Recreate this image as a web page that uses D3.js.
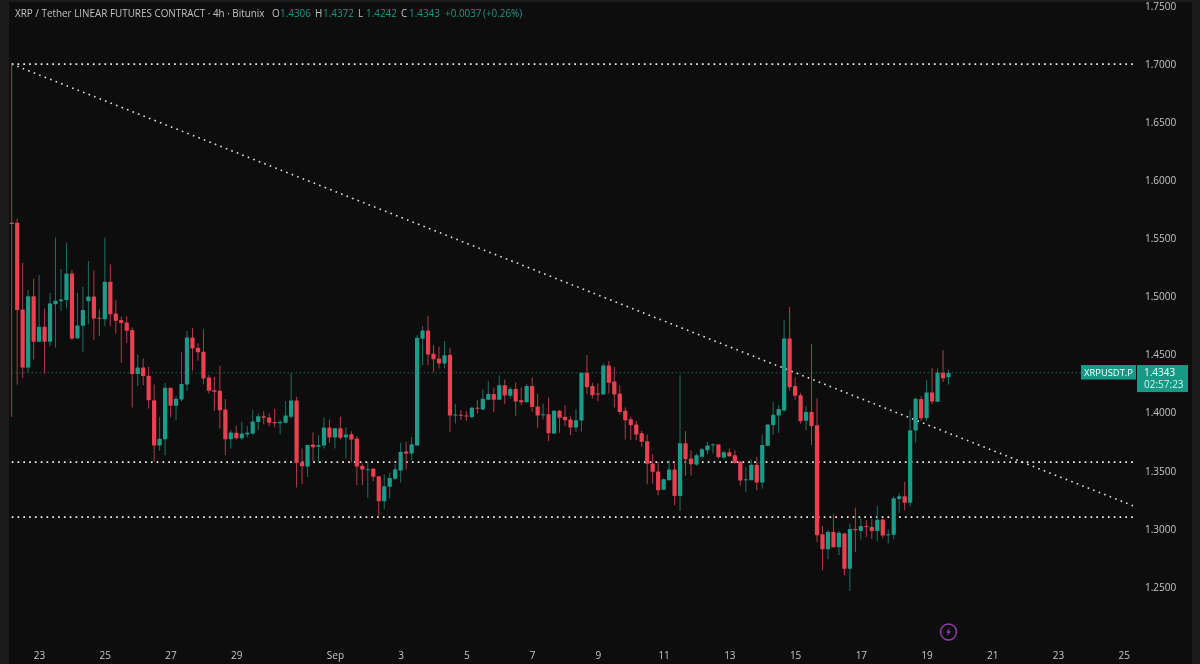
<!DOCTYPE html>
<html>
<head>
<meta charset="utf-8">
<style>
html, body { margin: 0; padding: 0; background: #0f0f0f; overflow: hidden; }
text { font-family: "Open Sans", sans-serif; }
.axis text { fill: #c4c4c4; font-size: 10px; }
</style>
</head>
<body>
<svg id="chart" width="1200" height="664"></svg>
<script src="https://cdn.jsdelivr.net/npm/d3@7"></script>
<script>
// 4h candles
var opens = [
  1.5635,1.5635,1.4889,1.4389,1.5003,1.4610,1.4739,1.4610,1.4934,1.4960,
  1.4969,1.5199,1.4639,1.4748,1.4960,1.5000,1.4817,1.4805,1.5127,1.4854,
  1.4797,1.4777,1.4711,1.4332,1.4389,1.4318,1.4108,1.3718,1.3772,1.4214,
  1.4059,1.4114,1.4243,1.4648,1.4559,1.4524,1.4303,1.4194,1.4188,1.4028,
  1.3772,1.3827,1.3781,1.3812,1.3821,1.3921,1.3970,1.3959,1.3919,1.3910,
  1.3913,1.3965,1.4105,1.3571,1.3537,1.3726,1.3706,1.3718,1.3873,1.3787,
  1.3867,1.3787,1.3815,1.3778,1.3543,1.3505,1.3517,1.3454,1.3238,1.3362,
  1.3431,1.3502,1.3666,1.3649,1.3718,1.4636,1.4708,1.4507,1.4467,1.4424,
  1.4498,1.3976,1.3982,1.3976,1.3962,1.4042,1.4028,1.4111,1.4160,1.4111,
  1.4237,1.4145,1.4203,1.4108,1.4091,1.4229,1.4053,1.3979,1.3987,1.3821,
  1.4016,1.3965,1.3942,1.3873,1.3933,1.4343,1.4229,1.4165,1.4157,1.4406,
  1.4269,1.4165,1.4016,1.3944,1.3898,1.3824,1.3755,1.3563,1.3494,1.3336,
  1.3419,1.3511,1.3284,1.3738,1.3606,1.3554,1.3620,1.3677,1.3721,1.3726,
  1.3614,1.3660,1.3634,1.3580,1.3419,1.3419,1.3551,1.3399,1.3715,1.3893,
  1.3976,1.4019,1.4639,1.4229,1.4151,1.3930,1.4005,1.3893,1.2954,1.2825,
  1.2974,1.2842,1.2960,1.2656,1.3000,1.2983,1.3026,1.3017,1.2983,1.3080,
  1.2946,1.2949,1.3258,1.3281,1.3224,1.3847,1.4117,1.3953,1.4174,1.4094,1.4343,1.4306
];
var highs = [
  1.7000,1.5672,1.5290,1.5055,1.5153,1.5184,1.4897,1.5032,1.5506,1.5236,
  1.5463,1.5227,1.5032,1.5084,1.5305,1.5222,1.4889,1.5506,1.5276,1.4969,
  1.4826,1.4831,1.4734,1.4501,1.4467,1.4395,1.4243,1.3965,1.4257,1.4214,
  1.4142,1.4521,1.4702,1.4731,1.4596,1.4719,1.4323,1.4309,1.4404,1.4117,
  1.3850,1.3887,1.3921,1.3884,1.4022,1.3993,1.4013,1.3993,1.4033,1.3936,
  1.4099,1.4338,1.4137,1.3692,1.3723,1.3832,1.3807,1.3959,1.3942,1.3867,
  1.3965,1.3873,1.3841,1.3798,1.3563,1.3577,1.3525,1.3454,1.3468,1.3485,
  1.3557,1.3741,1.3749,1.3792,1.4668,1.4745,1.4834,1.4582,1.4567,1.4616,
  1.4559,1.4074,1.4022,1.4013,1.4051,1.4108,1.4200,1.4274,1.4217,1.4320,
  1.4286,1.4223,1.4260,1.4217,1.4246,1.4303,1.4160,1.4079,1.4131,1.4022,
  1.4022,1.4065,1.3969,1.4028,1.4343,1.4495,1.4257,1.4251,1.4424,1.4444,
  1.4395,1.4237,1.4045,1.3965,1.3930,1.3844,1.3812,1.3643,1.3577,1.3434,
  1.3591,1.3568,1.4323,1.3841,1.3677,1.3649,1.3698,1.3749,1.3735,1.3729,
  1.3672,1.3692,1.3677,1.3586,1.3534,1.3597,1.3620,1.3812,1.3898,1.4094,
  1.4065,1.4797,1.4912,1.4303,1.4171,1.4059,1.4590,1.4122,1.3026,1.2994,
  1.3124,1.2983,1.2966,1.3046,1.3181,1.3089,1.3075,1.3083,1.3198,1.3089,
  1.2994,1.3281,1.3304,1.3405,1.4022,1.4131,1.4142,1.4280,1.4386,1.4381,1.4538,1.4372
];
var lows = [
  1.3965,1.4243,1.4300,1.4349,1.4458,1.4610,1.4338,1.4573,1.4559,1.4877,
  1.4897,1.4625,1.4639,1.4524,1.4762,1.4625,1.4662,1.4745,1.4745,1.4682,
  1.4429,1.4602,1.4045,1.4229,1.4237,1.4036,1.3577,1.3672,1.3634,1.3959,
  1.3936,1.4097,1.4188,1.4361,1.4447,1.4246,1.4165,1.4016,1.3864,1.3634,
  1.3692,1.3769,1.3764,1.3787,1.3807,1.3850,1.3901,1.3884,1.3873,1.3815,
  1.3907,1.3950,1.3356,1.3385,1.3448,1.3583,1.3571,1.3692,1.3741,1.3692,
  1.3769,1.3606,1.3571,1.3376,1.3376,1.3270,1.3411,1.3104,1.3170,1.3261,
  1.3419,1.3399,1.3511,1.3591,1.3718,1.4409,1.4409,1.4349,1.4381,1.4381,
  1.3835,1.3907,1.3936,1.3930,1.3950,1.3993,1.4022,1.4108,1.4005,1.4108,
  1.4074,1.4122,1.3973,1.4065,1.4091,1.4008,1.3870,1.3942,1.3755,1.3821,
  1.3827,1.3884,1.3807,1.3835,1.3835,1.4160,1.4122,1.4099,1.4157,1.4165,
  1.4045,1.3985,1.3769,1.3764,1.3764,1.3706,1.3385,1.3390,1.3290,1.3333,
  1.3419,1.3204,1.3155,1.3459,1.3459,1.3543,1.3611,1.3643,1.3649,1.3606,
  1.3600,1.3620,1.3563,1.3373,1.3319,1.3419,1.3333,1.3347,1.3715,1.3807,
  1.3827,1.4008,1.4188,1.4114,1.3907,1.3850,1.3721,1.2888,1.2644,1.2739,
  1.2842,1.2773,1.2601,1.2466,1.2802,1.2908,1.2931,1.2914,1.2894,1.2920,
  1.2874,1.2911,1.3138,1.3161,1.3195,1.3741,1.3927,1.3927,1.4074,1.4094,1.4263,1.4242
];
var closes = [
  1.5623,1.4883,1.4389,1.5003,1.4610,1.4739,1.4610,1.4940,1.4963,1.4975,
  1.5199,1.4639,1.4751,1.4883,1.5000,1.4811,1.4808,1.5127,1.4848,1.4791,
  1.4771,1.4705,1.4332,1.4389,1.4315,1.4108,1.3718,1.3775,1.4214,1.4059,
  1.4120,1.4246,1.4648,1.4553,1.4521,1.4295,1.4188,1.4180,1.4022,1.3772,
  1.3830,1.3781,1.3821,1.3827,1.3924,1.3970,1.3956,1.3913,1.3910,1.3919,
  1.3976,1.4105,1.3568,1.3540,1.3723,1.3703,1.3723,1.3873,1.3787,1.3867,
  1.3784,1.3812,1.3769,1.3537,1.3511,1.3514,1.3448,1.3238,1.3368,1.3439,
  1.3514,1.3663,1.3646,1.3729,1.4645,1.4708,1.4501,1.4461,1.4424,1.4495,
  1.3976,1.3985,1.3973,1.3967,1.4042,1.4033,1.4119,1.4160,1.4111,1.4237,
  1.4148,1.4203,1.4097,1.4091,1.4229,1.4048,1.3976,1.3987,1.3824,1.4016,
  1.3956,1.3936,1.3873,1.3936,1.4343,1.4220,1.4151,1.4157,1.4406,1.4257,
  1.4157,1.4005,1.3936,1.3893,1.3812,1.3749,1.3560,1.3491,1.3333,1.3428,
  1.3511,1.3284,1.3738,1.3600,1.3557,1.3634,1.3686,1.3718,1.3729,1.3617,
  1.3660,1.3626,1.3568,1.3416,1.3428,1.3551,1.3399,1.3723,1.3898,1.3982,
  1.4031,1.4639,1.4220,1.4145,1.3927,1.4005,1.3884,1.2946,1.2825,1.2974,
  1.2842,1.2966,1.2656,1.3000,1.2989,1.3026,1.3017,1.2983,1.3078,1.2943,
  1.2954,1.3264,1.3281,1.3224,1.3850,1.4119,1.3953,1.4174,1.4097,1.4343,1.4297,1.4343
];

var priceTicks = [1.25, 1.30, 1.35, 1.40, 1.45, 1.50, 1.55, 1.60, 1.65, 1.70, 1.75];
// candle number where each date label sits
var dateTickBars = [5, 17, 29, 41, 59, 71, 83, 95, 107, 119, 131, 143, 155, 167, 179, 191, 203];
var dateTickLabels = ["23", "25", "27", "29", "Sep", "3", "5", "7", "9", "11", "13", "15", "17", "19", "21", "23", "25"];

var levelPrices = [1.7000, 1.3575, 1.3102];
var trendBars = [0, 205.3];
var trendPrices = [1.7000, 1.3188];
var lastPrice = 1.4343;

var headerTitle = "XRP / Tether LINEAR FUTURES CONTRACT \u00b7 4h \u00b7 Bitunix";
var headerNames = ["O", "H", "L", "C"];
var headerValues = ["1.4306", "1.4372", "1.4242", "1.4343"];
var headerChange = "+0.0037";
var headerPercent = "(+0.26%)";

var up = "#1a9c88", down = "#ea3f50";
var upWick = "#1c6f62", downWick = "#b03a48";
var labelGrey = "#c0c0c0", valueGreen = "#1f9583";

var svg = d3.select("#chart");

var blur = svg.append("defs").append("filter").attr("id", "soft")
  .attr("x", 0).attr("y", 0).attr("width", 1).attr("height", 1)
  .attr("filterUnits", "userSpaceOnUse");
blur.attr("width", 1200).attr("height", 664);
blur.append("feGaussianBlur").attr("stdDeviation", 0.35);

var root = svg.append("g").attr("filter", "url(#soft)");
root.append("rect").attr("width", 1200).attr("height", 664).attr("fill", "#0f0f0f");

// frame strips of the screenshot
root.append("rect").attr("width", 9).attr("height", 664).attr("fill", "#1c1c1c");
root.append("rect").attr("x", 1192).attr("width", 8).attr("height", 664).attr("fill", "#1c1c1c");
root.append("rect").attr("width", 1200).attr("height", 2).attr("fill", "#1c1c1c");

var x = d3.scaleLinear().domain([0, 171]).range([11.7, 948.5]);
var y = d3.scaleLinear().domain([1.25, 1.75]).range([587, 6]);

var bars = d3.range(opens.length).map(function(i) {
  return { i: i, o: opens[i], h: highs[i], l: lows[i], c: closes[i] };
});

// last price line
root.append("line")
  .attr("x1", x(0)).attr("x2", 1081)
  .attr("y1", y(lastPrice)).attr("y2", y(lastPrice))
  .attr("stroke", "#1a8a78").attr("stroke-width", 1).attr("stroke-dasharray", "1 3");

// dotted drawings sit under the candles
root.append("g").selectAll("line").data(levelPrices).enter().append("line")
  .attr("x1", x(0)).attr("x2", x(205.3))
  .attr("y1", function(d) { return y(d); })
  .attr("y2", function(d) { return y(d); })
  .attr("stroke", "#f0f0f0").attr("stroke-width", 1.7)
  .attr("stroke-dasharray", "1.7 4.1");

root.append("line")
  .attr("x1", x(trendBars[0])).attr("x2", x(trendBars[1]))
  .attr("y1", y(trendPrices[0])).attr("y2", y(trendPrices[1]))
  .attr("stroke", "#e0e0e0").attr("stroke-width", 1.6)
  .attr("stroke-dasharray", "1.6 4.3");

var candle = root.append("g").selectAll("g").data(bars).enter().append("g");

candle.append("line")
  .attr("x1", function(d) { return x(d.i); })
  .attr("x2", function(d) { return x(d.i); })
  .attr("y1", function(d) { return y(d.h); })
  .attr("y2", function(d) { return y(d.l); })
  .attr("stroke", function(d) { return d.c >= d.o ? upWick : downWick; })
  .attr("stroke-width", 1);

candle.append("rect")
  .attr("x", function(d) { return x(d.i) - 2.1; })
  .attr("width", 4.2)
  .attr("y", function(d) { return y(Math.max(d.o, d.c)); })
  .attr("height", function(d) { return Math.max(1, Math.abs(y(d.o) - y(d.c))); })
  .attr("rx", 0.6)
  .attr("fill", function(d) { return d.c >= d.o ? up : down; });

// axes
var xAxis = d3.axisBottom(x).tickValues(dateTickBars).tickSize(0)
  .tickFormat(function(d, i) { return dateTickLabels[i]; });
root.append("g").attr("class", "axis").attr("transform", "translate(0,649)").call(xAxis)
  .call(function(g) { g.select(".domain").remove(); });

var yAxis = d3.axisRight(y).tickValues(priceTicks).tickSize(0).tickFormat(d3.format(".4f"));
root.append("g").attr("class", "axis").attr("transform", "translate(1142,0)").call(yAxis)
  .call(function(g) { g.select(".domain").remove(); });

// last price labels
root.append("rect").attr("x", 1081).attr("y", y(lastPrice) - 7.8).attr("width", 55).attr("height", 14.5).attr("fill", "#129a85");
root.append("rect").attr("x", 1137).attr("y", y(lastPrice) - 7.8).attr("width", 51).attr("height", 27).attr("fill", "#129a85");
root.append("text").attr("x", 1108.5).attr("y", y(lastPrice) + 3.4).attr("text-anchor", "middle")
  .attr("fill", "#ffffff").attr("font-size", 9.4).text("XRPUSDT.P");
root.append("text").attr("x", 1144).attr("y", y(lastPrice) + 3.6)
  .attr("fill", "#ffffff").attr("font-size", 10).text(d3.format(".4f")(lastPrice));
root.append("text").attr("x", 1144).attr("y", y(lastPrice) + 15.6)
  .attr("fill", "#d8f0ec").attr("font-size", 10).text("02:57:23");

// header legend
var legend = root.append("g").attr("font-size", 9.9);
legend.append("text").attr("x", 15).attr("y", 17).attr("fill", labelGrey).text(headerTitle);

var legendX = d3.scalePoint().domain(headerNames).range([272, 401]);
headerNames.forEach(function(name, i) {
  legend.append("text").attr("x", legendX(name)).attr("y", 17).attr("fill", labelGrey).text(name);
  legend.append("text").attr("x", legendX(name) + 8).attr("y", 17).attr("fill", valueGreen).text(headerValues[i]);
});
legend.append("text").attr("x", 445).attr("y", 17).attr("fill", valueGreen).text(headerChange);
legend.append("text").attr("x", 483).attr("y", 17).attr("fill", valueGreen).text(headerPercent);

// bolt marker under the last candle
var bolt = root.append("g").attr("transform", "translate(" + x(171) + ",632)");
bolt.append("circle").attr("r", 8).attr("fill", "none").attr("stroke", "#8e3ca8").attr("stroke-width", 1.5);
bolt.append("path").attr("d", "M1.5,-4.5 L-2.5,0.8 L-0.3,0.8 L-1.5,4.5 L2.5,-0.8 L0.3,-0.8 Z").attr("fill", "#8e3ca8");
</script>
</body>
</html>
